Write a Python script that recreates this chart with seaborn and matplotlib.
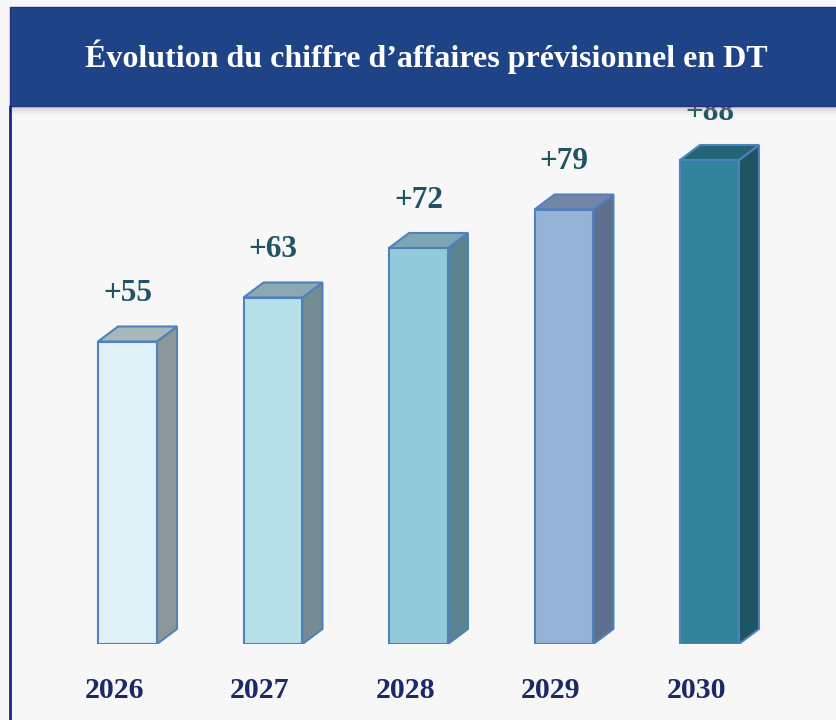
import matplotlib
matplotlib.use('Agg')
import matplotlib.pyplot as plt
import seaborn as sns
import pandas as pd
from matplotlib.patches import Polygon, Rectangle
from matplotlib import transforms
from matplotlib.lines import Line2D

# data
years = ['2026', '2027', '2028', '2029', '2030']
values = [55, 63, 72, 79, 88]
labels = ['+55', '+63', '+72', '+79', '+88']
title = 'Évolution du chiffre d\u2019affaires prévisionnel en DT'

front_colors = ['#dff0f7', '#b7dfe8', '#92cadc', '#95b3d7', '#31849b']
side_colors = ['#8c979a', '#748c92', '#5b8490', '#5f708c', '#1f5462']
top_colors = ['#a8b7ba', '#8aa9b0', '#7ca6b3', '#7386a5', '#236574']
edge = '#4f81bd'
bg = '#f7f7f7'

sns.set_theme(style='white')
plt.rcParams['font.family'] = ['Liberation Serif', 'DejaVu Serif']

W, H = 836, 720
fig = plt.figure(figsize=(W / 100, H / 100), dpi=100, facecolor=bg)
ax = fig.add_axes([54.75 / W, 76 / H, 727.5 / W, 550 / H])
ax.set_facecolor('none')

df = pd.DataFrame({'year': years, 'value': values})
sns.barplot(data=df, x='year', y='value', hue='year', palette=front_colors,
            saturation=1, width=0.405, edgecolor=edge, linewidth=1.5,
            legend=False, ax=ax, zorder=3)

ax.set_xlim(-0.5, 4.5)
ax.set_ylim(0, 100)
sns.despine(ax=ax, left=True, bottom=True)
ax.set_xticks([])
ax.set_yticks([])
ax.set_xlabel('')
ax.set_ylabel('')

# fake 3D depth
dx, dy = 0.1375, 2.73
bars = sorted(ax.patches, key=lambda p: p.get_x())
for i, p in enumerate(bars):
    x0, w, h = p.get_x(), p.get_width(), p.get_height()
    side = Polygon([(x0 + w, 0), (x0 + w + dx, dy), (x0 + w + dx, h + dy), (x0 + w, h)],
                   closed=True, facecolor=side_colors[i], edgecolor=edge, linewidth=1.5, zorder=2)
    top = Polygon([(x0, h), (x0 + dx, h + dy), (x0 + w + dx, h + dy), (x0 + w, h)],
                  closed=True, facecolor=top_colors[i], edgecolor=edge, linewidth=1.5, zorder=2)
    ax.add_patch(side)
    ax.add_patch(top)
    ax.annotate(labels[i], (x0 + w / 2, h), xytext=(0, 34.5), textcoords='offset points',
                ha='center', va='center', fontsize=22.5, fontweight='bold',
                color='#215462', annotation_clip=False, zorder=4)

# year labels under the bars
shift = transforms.ScaledTranslation(-13 / 100, 0, fig.dpi_scale_trans)
for i, yr in enumerate(years):
    ax.text(i, -46 / 5.5, yr, ha='center', va='center', fontsize=21.5, fontweight='bold',
            color='#1b2a66', transform=ax.transData + shift, clip_on=False)

# banner with title
for k, a in enumerate([0.35, 0.22, 0.12, 0.05]):
    fig.add_artist(Rectangle((10 / W, (H - 107 - 2 * (k + 1)) / H), 1, 2 / H,
                             transform=fig.transFigure, facecolor='#8a8a8a', alpha=a,
                             edgecolor='none', zorder=9))
fig.add_artist(Rectangle((10 / W, (H - 106) / H), 1, 99 / H, transform=fig.transFigure,
                         facecolor='#1e4387', edgecolor='#2a2a80', linewidth=1, zorder=10))
fig.text(426 / W, (H - 57) / H, title, ha='center', va='center', color='white',
         fontsize=23, fontweight='bold', zorder=11)
fig.add_artist(Line2D([10 / W, 10 / W], [0, (H - 106) / H], transform=fig.transFigure,
                      color='#1a237e', linewidth=2, zorder=10))

fig.savefig('out.png', dpi=100, facecolor=bg)
